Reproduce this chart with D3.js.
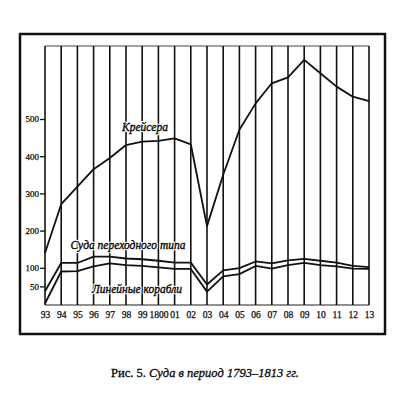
<!DOCTYPE html>
<html>
<head>
<meta charset="utf-8">
<script src="https://cdn.jsdelivr.net/npm/d3@7"></script>
<style>
    body { margin: 0; background: #fff; }
    svg { display: block; }
    text { font-family: "Liberation Serif", "DejaVu Serif", serif; fill: #111; }
</style>
</head>
<body>
<svg id="chart"></svg>
<script>
// years 1793-1813 and their tick labels
const years = d3.range(1793, 1814);
const yearLabels = ["93", "94", "95", "96", "97", "98", "99", "1800", "01", "02", "03",
    "04", "05", "06", "07", "08", "09", "10", "11", "12", "13"];
const yTicks = [50, 100, 200, 300, 400, 500];

// values
const cruisers = [140, 271, 318, 365, 395, 430, 439, 441, 448, 432, 212,
    350, 471, 542, 596, 612, 659, 623, 587, 560, 548];
const transitional = [37, 113, 113, 130, 130, 125, 123, 119, 114, 114, 55,
    93, 99, 117, 112, 120, 124, 119, 114, 105, 102];
const lineShips = [4, 90, 91, 104, 112, 107, 105, 101, 97, 97, 36,
    77, 83, 105, 98, 107, 113, 107, 104, 98, 97];

const seriesNames = ["Крейсера", "Суда переходного типа", "Линейные корабли"];

const W = 402, H = 399;
const svg = d3.select("#chart").attr("width", W).attr("height", H);

const x = d3.scalePoint().domain(years).range([45, 369]);
const y = d3.scaleLinear().domain([0, 500]).range([305, 119]);
const topVal = y.invert(46);

// outer frame
svg.append("rect")
    .attr("x", 20).attr("y", 34)
    .attr("width", 365).attr("height", 300)
    .attr("fill", "none")
    .attr("stroke", "#111")
    .attr("stroke-width", 2.5);

// top & bottom thin lines of plot box
svg.append("line")
    .attr("x1", x(1793)).attr("x2", x(1813))
    .attr("y1", y(topVal)).attr("y2", y(topVal))
    .attr("stroke", "#444").attr("stroke-width", 1);
svg.append("line")
    .attr("x1", x(1793)).attr("x2", x(1813))
    .attr("y1", y(0)).attr("y2", y(0))
    .attr("stroke", "#222").attr("stroke-width", 1.2);

// vertical year lines
svg.append("g").selectAll("line")
    .data(years)
    .join("line")
    .attr("x1", d => x(d)).attr("x2", d => x(d))
    .attr("y1", y(topVal)).attr("y2", y(0))
    .attr("stroke", "#111")
    .attr("stroke-width", 1.6);

// y axis ticks
const yAxis = d3.axisLeft(y).tickValues(yTicks).tickSize(5).tickPadding(1);
const gy = svg.append("g")
    .attr("transform", `translate(${x(1793)},0)`)
    .call(yAxis);
gy.select(".domain").remove();
gy.selectAll(".tick line").attr("stroke", "#111").attr("stroke-width", 1.3);
gy.selectAll(".tick text")
    .attr("font-size", 9)
    .attr("font-family", "Liberation Serif, serif")
    .attr("fill", "#000")
    .attr("stroke", "#000").attr("stroke-width", 0.25);

// x axis labels
const xAxis = d3.axisBottom(x).tickSize(0).tickPadding(6).tickFormat((d, i) => yearLabels[i]);
const gx = svg.append("g")
    .attr("transform", `translate(0,${y(0)})`)
    .call(xAxis);
gx.select(".domain").remove();
gx.selectAll(".tick text")
    .attr("font-size", 9.5)
    .attr("font-family", "Liberation Serif, serif")
    .attr("fill", "#000")
    .attr("stroke", "#000").attr("stroke-width", 0.25);

// data lines
const line = d3.line()
    .x((d, i) => x(years[i]))
    .y(d => y(d));

[cruisers, transitional, lineShips].forEach(s => {
    svg.append("path")
        .datum(s)
        .attr("d", line)
        .attr("fill", "none")
        .attr("stroke", "#111")
        .attr("stroke-width", 1.8)
        .attr("stroke-linejoin", "round");
});

// series labels (white halo under, like the print)
const labelPos = [
    { x: 145, y: 131 },
    { x: 128, y: 249 },
    { x: 137, y: 293 }
];
const labels = svg.append("g");
["halo", "ink"].forEach(layer => {
    labels.append("g").selectAll("text")
        .data(seriesNames)
        .join("text")
        .attr("x", (d, i) => labelPos[i].x)
        .attr("y", (d, i) => labelPos[i].y)
        .attr("text-anchor", "middle")
        .attr("font-size", 11.5)
        .attr("font-style", "italic")
        .attr("fill", layer == "halo" ? "#fff" : "#000")
        .attr("stroke", layer == "halo" ? "#fff" : "#000")
        .attr("stroke-width", layer == "halo" ? 2.5 : 0.35)
        .attr("stroke-linejoin", "round")
        .text(d => d);
});

// caption
const cap = svg.append("text")
    .attr("x", 205).attr("y", 377)
    .attr("text-anchor", "middle")
    .attr("font-size", 12.5)
    .attr("fill", "#000")
    .attr("stroke", "#000").attr("stroke-width", 0.3);
cap.append("tspan").text("Рис. 5. ");
cap.append("tspan").attr("font-style", "italic").text("Суда в период 1793–1813 гг.");
</script>
</body>
</html>
